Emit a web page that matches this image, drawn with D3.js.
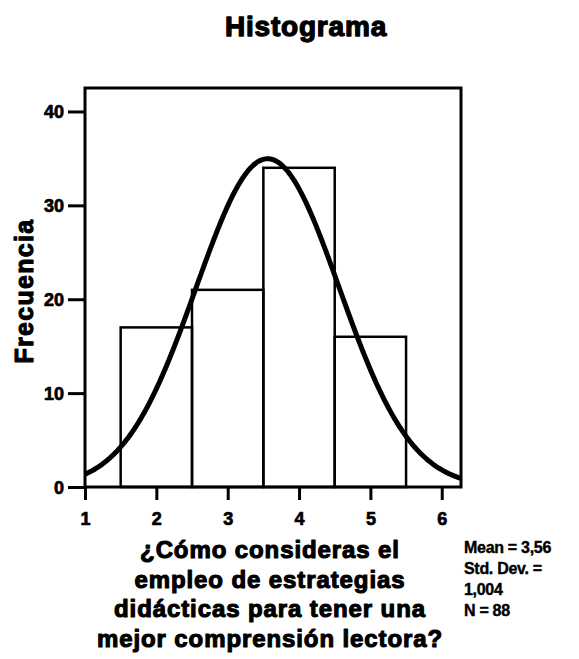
<!DOCTYPE html>
<html><head><meta charset="utf-8">
<script src="https://cdn.jsdelivr.net/npm/d3@7"></script>
<style>body{margin:0;background:#fff}</style>
</head><body>
<script>
const binStarts = [1.5, 2.5, 3.5, 4.5];
const binWidth = 1;
const counts = [17, 21, 34, 16];
const yTicks = [0, 10, 20, 30, 40];
const xTicks = [1, 2, 3, 4, 5, 6];
const mean = 3.56, sd = 1.004, n = 88;
const statLines = ["Mean = 3,56", "Std. Dev. =", "1,004", "N = 88"];
const xLabelLines = ["¿Cómo consideras el", "empleo de estrategias", "didácticas para tener una", "mejor comprensión lectora?"];

const W = 579, H = 659;
const svg = d3.select("body").append("svg").attr("width", W).attr("height", H);
const font = "'Liberation Sans', Arial, sans-serif";
function heavy(sel, size, sw, ls) {
  sel.attr("font-family", font).attr("font-weight", "bold").attr("font-size", size)
    .attr("fill", "#000").attr("stroke", "#000").attr("stroke-width", sw)
    .attr("letter-spacing", ls).attr("stroke-linejoin", "round");
}

const x = d3.scaleLinear().domain([1, 6.27]).range([85, 461]);
const y = d3.scaleLinear().domain([0, 42.5]).range([487, 88]);

// title
heavy(svg.append("text").attr("x", 306).attr("y", 36).attr("text-anchor", "middle").text("Histograma"), 28, 1.3, 0.8);

// bars
svg.selectAll("rect.bar").data(counts).enter().append("rect")
  .attr("x", (d, i) => x(binStarts[i]))
  .attr("width", (d, i) => x(binStarts[i] + binWidth) - x(binStarts[i]))
  .attr("y", d => y(d)).attr("height", d => y(0) - y(d))
  .attr("fill", "none").attr("stroke", "#000").attr("stroke-width", 2.5);

// normal curve
const pts = d3.range(0, 301).map(i => 1 + i * (5.27 / 300));
const pdf = v => n * binWidth / (sd * Math.sqrt(2 * Math.PI)) * Math.exp(-0.5 * ((v - mean) / sd) ** 2);
svg.append("path").datum(pts)
  .attr("d", d3.line().x(d => x(d)).y(d => y(pdf(d))).curve(d3.curveBasis))
  .attr("fill", "none").attr("stroke", "#000").attr("stroke-width", 5);

// frame
svg.append("rect").attr("x", 85).attr("y", 88).attr("width", 376).attr("height", 399)
  .attr("fill", "none").attr("stroke", "#000").attr("stroke-width", 3);

// axes
const yAxis = d3.axisLeft(y).tickValues(yTicks).tickSize(17).tickPadding(4).tickFormat(d3.format("d"));
const gy = svg.append("g").attr("transform", "translate(85,0)").call(yAxis);
gy.select(".domain").remove();
gy.selectAll("line").attr("stroke-width", 3);
heavy(gy.selectAll("text").attr("dy", "0.35em"), 18, 0.7, 0);

const xAxis = d3.axisBottom(x).tickValues(xTicks).tickSize(13).tickPadding(12).tickFormat(d3.format("d"));
const gx = svg.append("g").attr("transform", "translate(0,487)").call(xAxis);
gx.select(".domain").remove();
gx.selectAll("line").attr("stroke-width", 3);
heavy(gx.selectAll("text"), 18, 0.7, 0);

// y label
heavy(svg.append("text").attr("transform", "translate(33,291) rotate(-90)").attr("text-anchor", "middle").text("Frecuencia"), 25, 1.1, 1.3);

// x label
heavy(svg.selectAll("text.xl").data(xLabelLines).enter().append("text")
  .attr("x", 270).attr("y", (d, i) => 558 + i * 29.7).attr("text-anchor", "middle").text(d => d), 24, 1.1, 0.9);

// stats
heavy(svg.selectAll("text.st").data(statLines).enter().append("text")
  .attr("x", 464).attr("y", (d, i) => 553 + i * 21).text(d => d), 16, 0.4, -0.3);
</script>
</body></html>
